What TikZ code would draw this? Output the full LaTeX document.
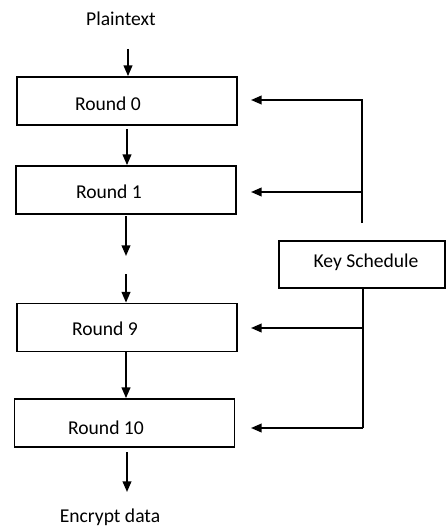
\documentclass[tikz,border=0pt]{standalone}
\usepackage{fontspec}
\setmainfont{Carlito}
\usetikzlibrary{arrows.meta}
\begin{document}
\begin{tikzpicture}[x=0.75pt,y=-0.75pt,
  line width=1.3pt,
  arr/.style={-{Triangle[width=6.5pt,length=8pt]}},
  rbox/.style={draw,minimum width=165pt,minimum height=36pt,inner sep=0pt},
  kbox/.style={draw,minimum width=124.5pt,minimum height=35pt,inner sep=0pt},
  txt/.style={inner sep=0pt,font=\fontsize{14.7pt}{17pt}\selectfont}]
\useasboundingbox (0,0) rectangle (446,527);

% round boxes
\node[rbox] (r0) at (127,101) {};
\node[rbox] (r1) at (126,190) {};
\node[rbox] (r9) at (127,327.5) {};
\node[rbox] (r10) at (124.5,423) {};
\node[kbox] (ks) at (362,264.5) {};

% labels
\node[txt] (pt) at (121,19) {Plaintext};
\node[txt] (t0) at (108,104) {Round 0};
\node[txt] (t1) at (109,192) {Round 1};
\node[txt] (t9) at (105,329) {Round 9};
\node[txt] (t10) at (106,428) {Round 10};
\node[txt] (tk) at (366,262) {Key Schedule};
\node[txt] (ed) at (110,517) {Encrypt data};

% data path
\coordinate (p0) at (128,49);
\coordinate (c0) at (127,129);
\coordinate (g1) at (126,216);
\coordinate (g2) at (126,256);
\coordinate (g3) at (126,274);
\coordinate (c9) at (126,352);
\coordinate (o1) at (127,452);
\coordinate (o2) at (127,492);
\draw[arr] (p0) -- (p0 |- r0.north);
\draw[arr] (c0) -- (c0 |- r1.north);
\draw[arr] (g1) -- (g2);
\draw[arr] (g3) -- (g3 |- r9.north);
\draw[arr] (c9) -- (c9 |- r10.north);
\draw[arr] (o1) -- (o2);

% key schedule feed lines
\coordinate (kt) at (362,223);
\coordinate (k1) at (362,192);
\coordinate (k9) at (362,328);
\coordinate (kb) at (363,428);
\coordinate (a0) at (251,100);
\coordinate (a1) at (251,192);
\coordinate (a9) at (251,328);
\coordinate (a10) at (251,428);
\draw[arr] (kt) |- (a0);
\draw[arr] (k1) -- (a1);
\draw (ks.south -| kb) -- (kb);
\draw[arr] (k9) -- (a9);
\draw[arr] (kb) -- (a10);
\end{tikzpicture}
\end{document}
